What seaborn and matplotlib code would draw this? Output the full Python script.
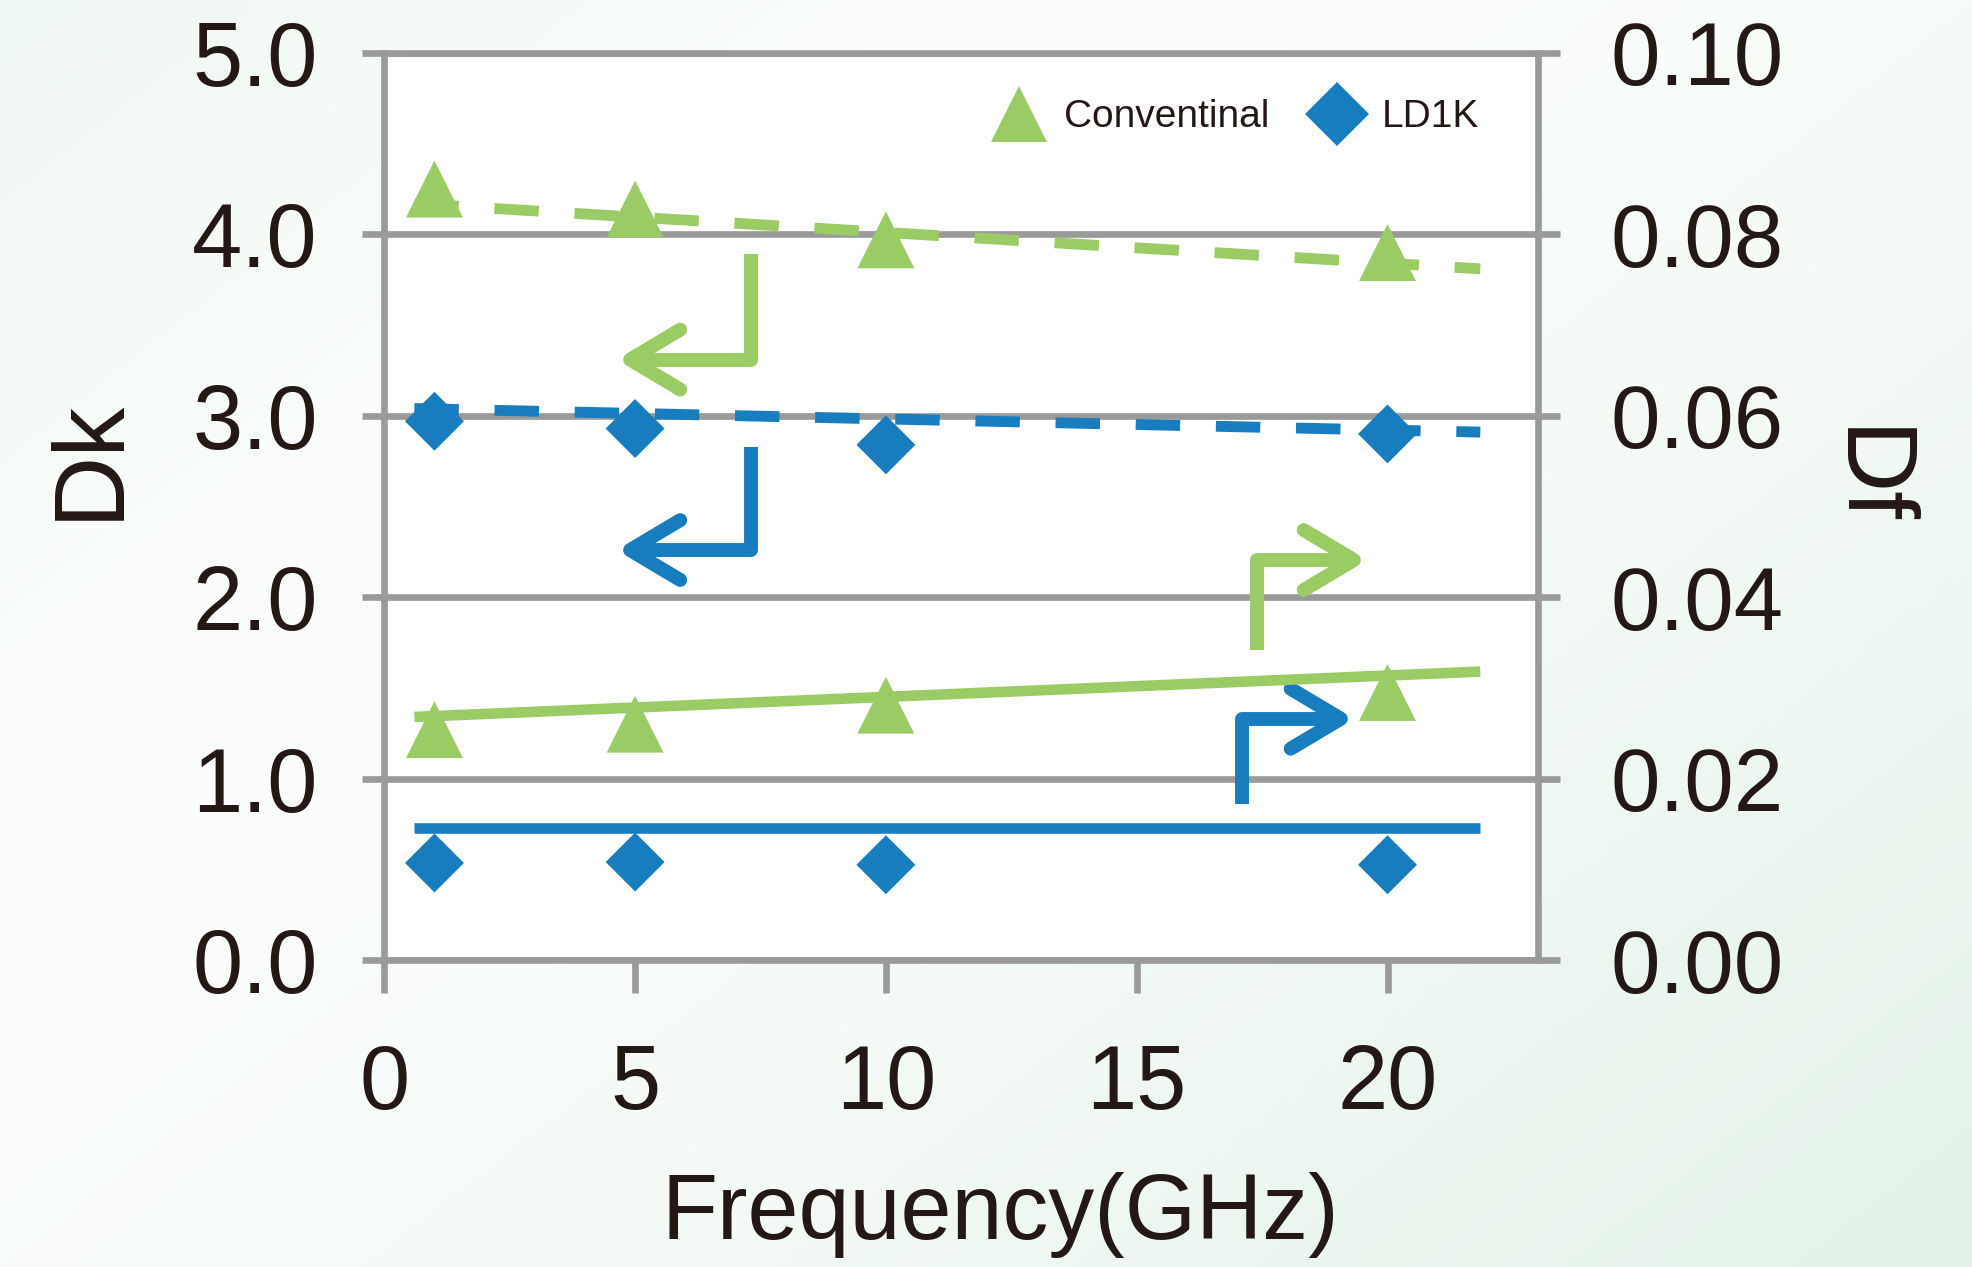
import numpy as np
import pandas as pd
import matplotlib
matplotlib.use("Agg")
import matplotlib.pyplot as plt
from matplotlib.colors import LinearSegmentedColormap
from matplotlib.lines import Line2D
import seaborn as sns

# ---------------- data ----------------
freq = [1, 5, 10, 20]
series_names = ["Conventinal", "LD1K"]

conv_dk = [4.25, 4.14, 3.97, 3.90]
ld1k_dk = [2.97, 2.93, 2.84, 2.90]
conv_df = [0.0254, 0.0260, 0.0281, 0.0295]
ld1k_df = [0.0107, 0.0108, 0.0105, 0.0105]

# trend lines (Excel-style) end points
trend_x = [0.6, 21.85]
conv_dk_trend = [4.17, 3.81]
ld1k_dk_trend = [3.04, 2.91]
conv_df_trend = [0.0268, 0.0318]
ld1k_df_trend = [0.01455, 0.01455]

x_ticks = [0, 5, 10, 15, 20]
x_tick_labels = ["0", "5", "10", "15", "20"]
dk_ticks = [0, 1, 2, 3, 4, 5]
dk_tick_labels = ["0.0", "1.0", "2.0", "3.0", "4.0", "5.0"]
df_ticks = [0.00, 0.02, 0.04, 0.06, 0.08, 0.10]
df_tick_labels = ["0.00", "0.02", "0.04", "0.06", "0.08", "0.10"]

# annotation arrows in (Frequency, Dk) coordinates: start, corner, tip
arrow_conv_dk = [(7.31, 3.89), (7.31, 3.31), (4.90, 3.31)]
arrow_ld1k_dk = [(7.31, 2.83), (7.31, 2.26), (4.90, 2.26)]
arrow_conv_df = [(17.39, 1.71), (17.39, 2.205), (19.33, 2.205)]
arrow_ld1k_df = [(17.09, 0.86), (17.09, 1.33), (19.07, 1.33)]

# ---------------- style ----------------
GREEN = "#9bcb64"
BLUE = "#177dbf"
GRID = "#9a9a9a"
TEXT = "#231815"

sns.set_style("white")
plt.rcParams["font.family"] = ["Liberation Sans", "DejaVu Sans"]

W, H = 1972, 1267
fig = plt.figure(figsize=(W / 100, H / 100), dpi=100)

# soft gradient background
bg = fig.add_axes([0, 0, 1, 1], zorder=-10)
yy, xx = np.mgrid[0:1:300j, 0:1:470j]
dd = 0.55 * xx + 0.45 * yy
cmap = LinearSegmentedColormap.from_list(
    "bg", [(0, "#eff7f2"), (0.3, "#fcfefd"), (0.6, "#f5faf7"), (1, "#e3f2e9")])
bg.imshow(dd, cmap=cmap, aspect="auto", extent=[0, 1, 0, 1], origin="upper", vmin=0, vmax=1)
bg.axis("off")

ax = fig.add_axes([384.3 / W, 1 - 960 / H, (1538 - 384.3) / W, (960 - 53) / H])
ax.set_facecolor("white")
ax2 = ax.twinx()
ax2.patch.set_visible(False)

palette = {"Conventinal": GREEN, "LD1K": BLUE}
markers = {"Conventinal": "^", "LD1K": "D"}
sizes = {"Conventinal": 41 ** 2, "LD1K": 30 ** 2}

dk_df = pd.DataFrame({
    "Frequency": freq + freq,
    "Value": conv_dk + ld1k_dk,
    "Material": [series_names[0]] * len(freq) + [series_names[1]] * len(freq),
})
df_df = pd.DataFrame({
    "Frequency": freq + freq,
    "Value": conv_df + ld1k_df,
    "Material": [series_names[0]] * len(freq) + [series_names[1]] * len(freq),
})

sns.scatterplot(data=dk_df, x="Frequency", y="Value", hue="Material", style="Material",
                size="Material", palette=palette, markers=markers, sizes=sizes,
                linewidth=0, ax=ax, legend=False, zorder=2)
sns.scatterplot(data=df_df, x="Frequency", y="Value", hue="Material", style="Material",
                size="Material", palette=palette, markers=markers, sizes=sizes,
                linewidth=0, ax=ax2, legend=False, zorder=2)

# trend lines
dash = (4.1, 3.3)
ax.plot(trend_x, conv_dk_trend, color=GREEN, lw=7.8, dashes=dash, dash_capstyle="butt", zorder=3)
ax.plot(trend_x, ld1k_dk_trend, color=BLUE, lw=7.8, dashes=dash, dash_capstyle="butt", zorder=3)
ax2.plot(trend_x, conv_df_trend, color=GREEN, lw=7.6, solid_capstyle="butt", zorder=3)
ax2.plot(trend_x, ld1k_df_trend, color=BLUE, lw=7.6, solid_capstyle="butt", zorder=3)

# arrows
HX, HY = 1.0, 0.165


def draw_arrow(pts, color):
    xs = [p[0] for p in pts]
    ys = [p[1] for p in pts]
    ax.plot(xs, ys, color=color, lw=10, solid_joinstyle="round", solid_capstyle="butt", zorder=4)
    tx, ty = pts[-1]
    sgn = 1 if pts[-1][0] < pts[-2][0] else -1
    ax.plot([tx + sgn * HX, tx, tx + sgn * HX], [ty + HY, ty, ty - HY], color=color, lw=10,
            solid_joinstyle="round", solid_capstyle="round", zorder=4)


draw_arrow(arrow_conv_dk, GREEN)
draw_arrow(arrow_ld1k_dk, BLUE)
draw_arrow(arrow_conv_df, GREEN)
draw_arrow(arrow_ld1k_df, BLUE)

# axes, ticks, grid
ax.set_xlim(0, 23)
ax.set_ylim(0, 5)
ax2.set_ylim(0, 0.10)
ax.set_xticks(x_ticks)
ax.set_xticklabels(x_tick_labels)
ax.set_yticks(dk_ticks)
ax.set_yticklabels(dk_tick_labels)
ax2.set_yticks(df_ticks)
ax2.set_yticklabels(df_tick_labels)
ax.set_xlabel("")
ax.set_ylabel("")
ax2.set_ylabel("")

ax.grid(False)
ax2.grid(False)
ax.yaxis.grid(True, color=GRID, lw=4.8)
ax.set_axisbelow(True)

for s in ax.spines.values():
    s.set_visible(True)
    s.set_color(GRID)
    s.set_linewidth(4.8)
for s in ax2.spines.values():
    s.set_visible(False)

ax.tick_params(axis="y", which="major", direction="out", left=True, right=False, length=16,
               width=4.8, color=GRID, labelsize=65, labelcolor=TEXT, pad=32)
ax.tick_params(axis="x", which="major", direction="out", bottom=True, top=False, length=24,
               width=4.8, color=GRID, labelsize=65, labelcolor=TEXT, pad=36)
ax2.tick_params(axis="y", which="major", direction="out", right=True, left=False, length=16,
                width=4.8, color=GRID, labelsize=64, labelcolor=TEXT, pad=36)

# legend
handles = [
    Line2D([], [], marker="^", color=GREEN, ls="none", ms=41, mew=0),
    Line2D([], [], marker="D", color=BLUE, ls="none", ms=33, mew=0),
]
ax2.legend(handles, series_names, loc="center left", bbox_to_anchor=(0.525, 0.929), ncol=2,
           frameon=False, fontsize=28, handlelength=1.5, handletextpad=0.4, columnspacing=1.0,
           borderpad=0, borderaxespad=0, labelcolor=TEXT)

# axis titles
fig.text(90.8 / W, 1 - 459 / H, "Dk", rotation=90, ha="center", va="center", fontsize=72, color=TEXT)
fig.text(1865 / W, 1 - 477 / H, "Df", rotation=-90, ha="center", va="center", fontsize=72, color=TEXT)
fig.text(1000 / W, 1 - 1239 / H, "Frequency(GHz)", ha="center", va="baseline", fontsize=66, color=TEXT)

fig.savefig("out.png", dpi=100)
